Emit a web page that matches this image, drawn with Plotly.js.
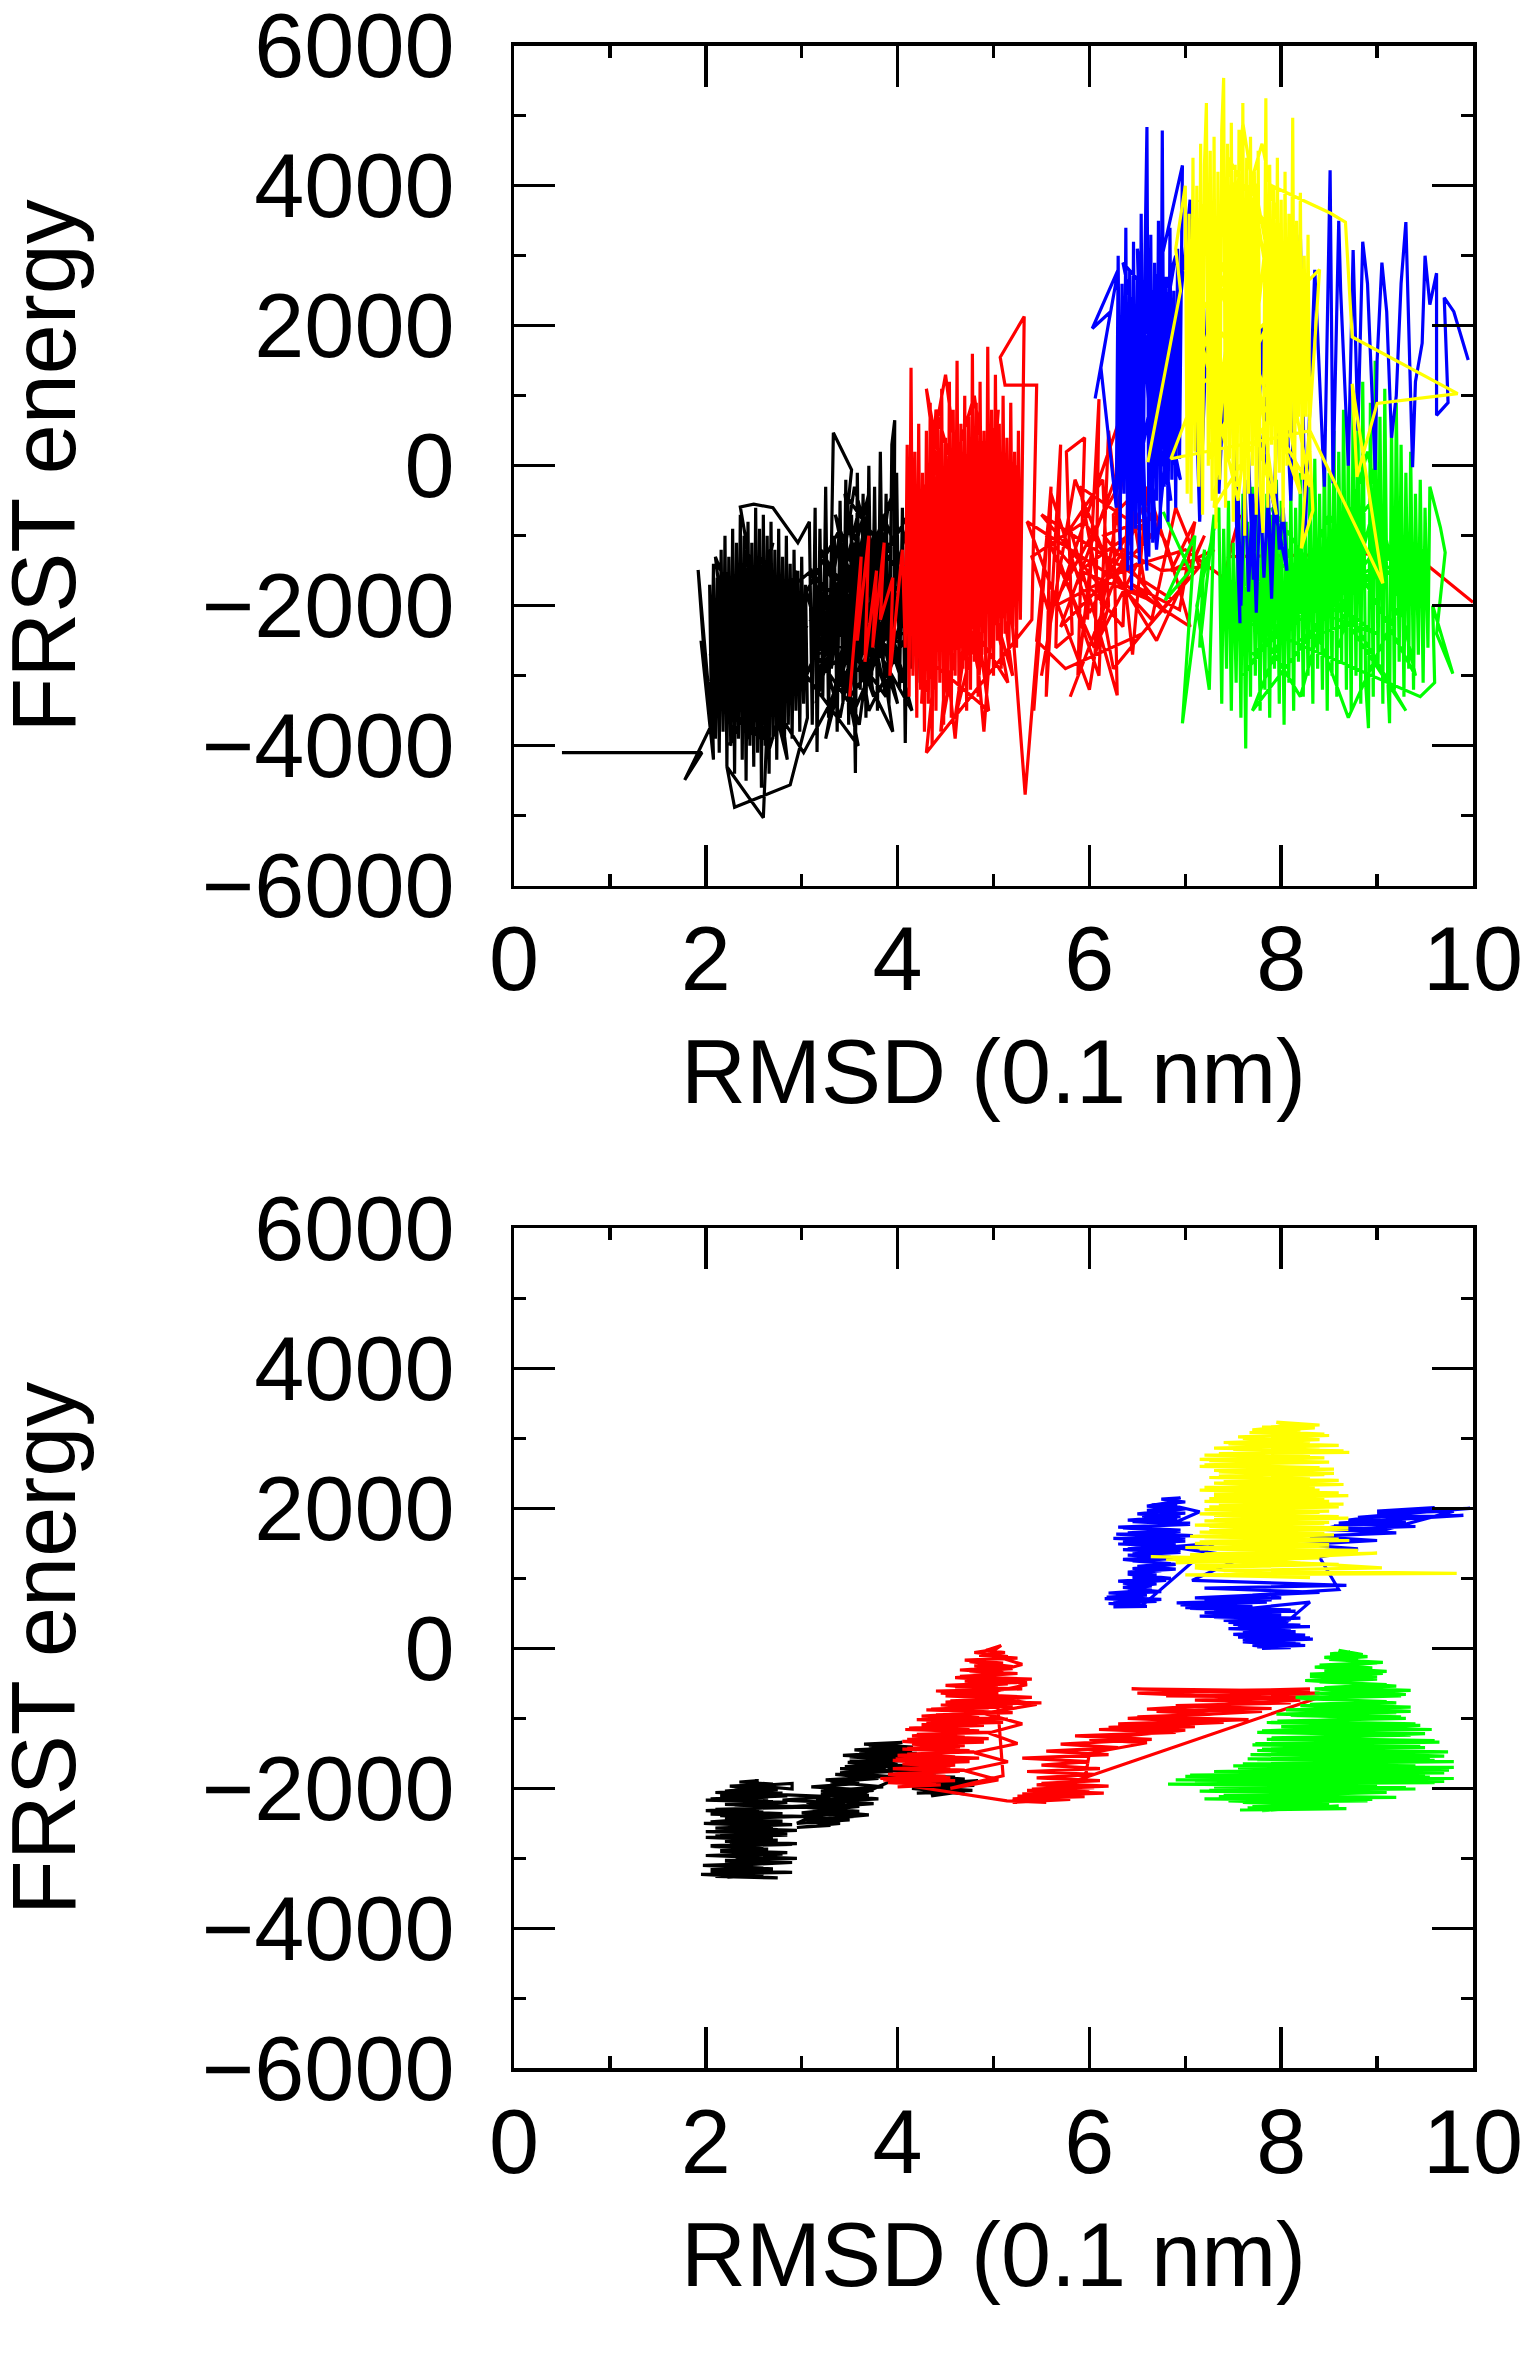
<!DOCTYPE html>
<html>
<head>
<meta charset="utf-8">
<script src="https://cdn.plot.ly/plotly-3.0.1.min.js"></script>
<style>
  html, body { margin: 0; padding: 0; background: #fff; }
  #chart { width: 1525px; height: 2366px; }
</style>
</head>
<body>
<div id="chart"></div>
<script>
// ---- datos: pares [RMSD, energía FRST] ----

// panel superior
const topBlack = [
  [0.50,-4100],[1.96,-4100],[1.78,-4490],[2.06,-3700],[1.92,-1490],[2.02,-3400],[1.95,-2500],[2.08,-4200],
  [2.04,-1700],[2.06,-3600],[2.08,-1400],[2.10,-3900],[2.12,-1600],[2.14,-4100],[2.16,-1200],[2.18,-3800],
  [2.20,-1000],[2.22,-4300],[2.24,-1300],[2.26,-4000],[2.28,-900],[2.30,-4400],[2.32,-1100],[2.34,-3900],
  [2.36,-700],[2.38,-4200],[2.40,-1000],[2.42,-4500],[2.44,-800],[2.46,-4000],[2.48,-1100],[2.50,-4300],
  [2.52,-600],[2.54,-4100],[2.56,-900],[2.58,-4600],[2.60,-700],[2.62,-4000],[2.64,-1000],[2.66,-4400],
  [2.68,-800],[2.70,-3900],[2.72,-1200],[2.74,-4200],[2.76,-900],[2.78,-3800],[2.80,-1300],[2.82,-4000],
  [2.84,-1000],[2.86,-3700],[2.88,-1400],[2.90,-3900],[2.92,-1200],[2.94,-3500],[2.96,-1500],[2.98,-3800],
  [3.00,-1300],[3.02,-3400],[3.04,-1700],[3.06,-3600],
  [2.88,-4560],[2.30,-4880],[2.22,-4300],[2.60,-5030],[2.66,-3000],[2.36,-590],[2.50,-550],[2.70,-600],[2.96,-1100],
  [3.08,-800],[3.11,-3700],[3.14,-600],[3.16,-4090],[3.19,-900],[3.22,-3300],[3.25,-300],[3.28,-3600],
  [3.33,470],[3.52,-60],[3.31,-2900],[3.34,-1000],[3.37,-3800],[3.40,-500],[3.43,-3400],[3.46,-200],
  [3.49,-3700],[3.52,-700],[3.56,-4390],[3.58,-100],[3.61,-3200],[3.64,-400],[3.67,-3600],[3.70,0],
  [3.73,-3000],[3.76,-300],[3.79,-3500],[3.82,200],[3.85,-2800],[3.88,-400],[3.91,-3400],[3.94,300],
  [3.97,650],[3.96,-2600],[3.99,-100],[4.02,-3200],[4.05,-600],[4.08,-3960],[4.11,-300],[4.14,-2900],
  [4.17,-900],[4.20,-3100],[4.23,-1200],[4.25,-2600],
  [3.10,-2200],[3.50,-1500],[3.20,-2700],[3.70,-1800],[3.30,-1900],[3.90,-2300],[3.40,-2600],[4.10,-1700],
  [3.60,-2900],[3.80,-1300],[3.45,-2100],[4.00,-2700],[3.65,-1200],[3.35,-3200],[3.75,-2400],[3.15,-1600],
  [3.55,-2500],[3.85,-1900],[3.25,-2300],[3.05,-3000],[3.59,-4000],[3.45,-3000],[3.02,-4100],
  [2.05,-2000],[2.55,-3900],[2.95,-1500],[2.30,-3600],[2.10,-1300],[2.80,-3800],[2.40,-1200],[3.00,-3200],
  [2.15,-3300],[2.70,-1100],[2.25,-4000],[2.90,-1900],[2.45,-3900],[2.20,-1500],[2.65,-4100],[3.05,-2300],
  [2.35,-1400],[2.75,-3500],[2.05,-2700],[2.60,-1300],[2.85,-4200],[2.50,-2200],
  [3.10,-1500],[3.60,-3700],[3.90,-600],[3.30,-3400],[4.00,-1500],[3.45,-400],[3.75,-3300],[3.20,-1200],
  [4.15,-3500],[3.55,-300],[3.35,-2100],[3.95,-3800],[3.65,-900],[3.25,-3900],[3.85,-700],[4.20,-2000],
  [3.50,-3300],[3.70,-400],[3.15,-3400],[3.40,-900],
  [3.05,-1800],[3.40,-3600],[3.75,-1000],[4.05,-3100],[3.50,-800],[3.20,-3000],[3.95,-2000],[3.60,-600],
  [3.30,-2400],[4.10,-2400],[3.70,-3500],[3.45,-1300],[3.85,-3100],[4.20,-1400],[3.55,-3500],[3.15,-2700],
  [3.90,-1100],[3.65,-2700],[3.35,-700],[4.00,-3400],[3.80,-2200],[3.25,-1400],[3.50,-2200],[4.15,-600],
  [3.72,-3000],[3.42,-2800],[3.95,-400],[3.62,-1600],[3.18,-2000],[3.88,-3300],[3.55,-1100],[4.08,-1900]
];

const topRed = [
  [3.50,-3300],[3.62,-1300],[3.58,-2500],[3.70,-1000],[3.66,-2800],[3.78,-1500],[3.74,-2600],[3.86,-1100],
  [3.82,-2200],[3.95,-1600],[3.92,-3000],[4.05,-1200],[4.08,-2600],
  [4.10,300],[4.12,-3300],[4.14,1400],[4.16,-3000],[4.18,200],[4.20,-3600],[4.22,600],[4.24,-3200],
  [4.26,-100],[4.28,-3800],[4.30,500],[4.32,-3400],[4.34,900],[4.36,-4000],[4.38,300],[4.40,-3500],
  [4.42,700],[4.44,-3100],[4.46,1100],[4.48,-3700],[4.50,400],[4.52,-3300],[4.54,1200],[4.56,-3600],
  [4.58,800],[4.60,-3000],[4.62,1500],[4.64,-3400],[4.66,600],[4.68,-2900],[4.70,1000],[4.72,-3500],
  [4.74,700],[4.76,-3200],[4.78,1600],[4.80,-2800],[4.82,900],[4.84,-3300],[4.86,1200],[4.88,-2700],
  [4.90,500],[4.92,-3100],[4.94,1700],[4.96,-2600],[4.98,800],[5.00,-3000],[5.02,1300],[5.04,-2500],
  [5.06,600],[5.08,-2900],[5.10,1000],[5.12,-2400],[5.14,400],[5.16,-2800],[5.18,900],[5.20,-2300],
  [5.22,200],[5.24,-2600],[5.26,500],[5.28,-2200],
  [5.32,2130],[5.07,1550],[5.12,1150],[5.45,1150],[5.40,-2200],
  [4.30,-4100],[4.45,-2000],[4.60,-3900],[4.75,-1500],[4.90,-3800],[5.05,-1000],
  [4.15,-2000],[4.80,1000],[5.20,-3000],[4.40,800],[4.25,-3400],[5.00,400],[4.60,-3600],[5.25,0],
  [4.35,-2800],[4.95,-3500],[4.50,1300],[4.20,-1000],[5.15,-3100],[4.70,200],[4.45,-3800],[5.05,800],
  [4.85,-3000],[4.30,1100],[4.65,-2600],[5.10,-500],
  [5.33,-4700],[5.50,-1800],[5.42,-3500],[5.60,-300],[5.55,-3300],[5.70,300],[5.65,-2600],[5.82,-2400],
  [5.76,200],[5.95,400],[5.88,-3000],[6.02,-1300],[5.98,-2200],[6.10,950],[6.06,-2700],[6.20,-2000],
  [6.14,-200],[5.80,-900],[6.29,-3280],[6.25,-700],[6.40,-500],[6.35,-2300],[5.55,-1000],[6.05,-2600],
  [6.50,-1400],[5.65,-2000],[6.30,600],[6.60,-1900],[5.90,-1500],[6.70,-700],[6.15,-1000],[6.80,-2100],
  [6.45,-1700],[6.94,-2060],[7.10,-800],[6.85,-1500],[7.30,-1200],[6.55,-2400],[5.75,-2900],[5.45,-2500],
  [5.60,-400],[6.00,-2100],[6.35,-1200],[6.75,-1500],[7.15,-1450],[6.90,-600],[6.65,-2200],[6.25,-1600],
  [5.85,-200],[5.50,-3000],[5.70,-1400],[6.10,-3000],[6.20,500],[6.45,-2700],[6.60,-300],[6.95,-1800],
  [7.20,-1000],[6.70,-2500],[5.95,-800],[5.40,-1300],[5.58,-2100],[6.38,-100],[6.80,-1100],[7.05,-2300],
  [5.35,-800],[6.00,-3200],[6.40,300],[5.70,-2300],[6.65,-1000],[5.90,-300],[6.25,-2900],[6.85,-1900],
  [5.50,-700],[6.10,-1700],[6.55,-600],[5.80,-3300],[6.30,-1500],[7.00,-1200],
  [7.40,-1600],[7.57,-700],[7.45,-1300],[9.37,-1250],[10.0,-1950]
];

const topGreen = [
  [6.77,-660],[7.05,-1500],[6.79,-1920],[7.10,-1000],[6.97,-3680],[7.20,-1200],[7.15,-2600],[7.30,-700],
  [7.25,-3200],[7.12,-2000],[7.35,-600],
  [7.38,-3400],[7.40,-900],[7.43,-2900],[7.45,-500],[7.48,-3500],[7.50,-1100],[7.53,-3100],[7.55,-700],
  [7.58,-3600],[7.60,-400],[7.63,-4040],[7.65,-800],[7.68,-3300],[7.70,-300],[7.73,-3000],[7.75,-600],
  [7.78,-3500],[7.80,-900],[7.83,-3200],[7.85,-400],[7.88,-3600],[7.90,-700],[7.93,-2900],[7.95,-200],
  [7.98,-3400],[8.00,-500],[8.03,-3700],[8.05,-800],[8.08,-3100],[8.10,-300],[8.13,-3500],[8.15,-600],
  [8.18,-2800],[8.20,-100],[8.23,-3300],[8.25,-700],[8.28,-3000],[8.30,-200],[8.33,-3400],[8.35,100],
  [8.38,-2900],[8.40,-400],[8.43,-3200],[8.45,300],[8.48,-3500],[8.50,-100],[8.53,-3000],[8.55,500],
  [8.58,-3300],[8.60,200],[8.63,-2800],[8.65,800],[8.68,-3200],[8.70,400],[8.73,-3500],[8.75,1000],
  [8.78,-3000],[8.80,600],[8.83,-3400],[8.85,1200],[8.88,-3100],[8.91,-3750],[8.93,900],[8.96,-3300],
  [8.98,1500],[9.01,-2900],[9.03,700],[9.06,-3400],[9.08,1100],[9.11,-3000],[9.13,-3680],[9.15,600],
  [9.18,-3200],[9.20,900],[9.23,-2800],[9.25,300],[9.28,-3300],[9.30,-100],[9.33,-2900],[9.35,200],
  [9.38,-3200],[9.40,-400],[9.43,-2700],[9.45,-200],[9.48,-3100],[9.50,-600],[9.53,-2600],[9.55,-300],
  [9.66,-880],[9.71,-1240],[9.62,-2400],[9.79,-2970],[9.58,-2000],[9.60,-3100],[9.45,-3300],
  [7.60,-2200],[9.20,-1500],[7.80,-1800],[9.00,-2400],[8.00,-1400],[8.80,-2200],[8.20,-2500],[9.30,-1100],
  [7.70,-2700],[8.60,-1600],[7.50,-1900],
  [7.40,-1500],[8.20,-3300],[8.90,200],[9.40,-3000],[8.50,-700],[7.70,-3500],[9.10,-1000],[8.00,-2200],
  [9.50,-1200],[8.70,-3600],[7.90,-600],[9.30,-3500],[8.40,-1400],[7.60,-3000],[9.00,-400],[8.60,-2600]
];

const topBlue = [
  [6.06,960],[6.30,2800],[6.03,1960],[6.22,2200],[6.12,1400],
  [6.28,-600],[6.30,3000],[6.32,-1200],[6.34,2600],[6.36,-400],[6.38,3400],[6.40,-1500],[6.42,2800],
  [6.44,-1780],[6.46,3200],[6.48,-900],[6.50,2700],[6.52,-1400],[6.54,3600],[6.56,-700],[6.58,3000],
  [6.60,4840],[6.62,-1300],[6.64,3300],[6.66,-1100],[6.68,2900],[6.70,-500],[6.72,3500],[6.74,-900],
  [6.76,4790],[6.78,-300],[6.80,2700],[6.82,-800],[6.84,3400],[6.86,-200],[6.88,2500],[6.90,-600],
  [6.92,3100],[6.94,100],[6.97,4290],
  [6.30,200],[6.90,3000],[6.40,-1000],[6.80,2200],[6.35,2900],[6.85,-500],[6.50,3100],[6.60,-1500],
  [6.45,1800],[6.95,-200],[6.55,2500],[6.70,-1200],
  [7.05,3800],[7.15,-800],[7.25,3000],[7.35,-400],[7.45,2500],[7.57,-2250],[7.55,-300],[7.58,-2000],
  [7.62,-200],[7.66,-1800],[7.70,-400],[7.74,-2100],[7.78,-300],[7.82,-1600],[7.86,-500],[7.90,-1900],
  [7.94,-200],[7.98,-1200],[8.02,-600],[8.06,-1500],[7.62,1500],[7.71,-1630],[7.80,2000],[7.90,-1630],
  [8.00,2500],[8.10,-500],[8.20,3300],[8.25,-1000],[8.35,2800],[8.40,1200],[8.45,-300],[8.51,4220],
  [8.54,-250],[8.60,3500],[8.62,2500],[8.70,0],[8.75,3080],[8.80,500],[8.85,3200],[8.90,2600],
  [8.98,-60],[9.00,1500],[9.05,2900],[9.10,2200],[9.15,400],[9.20,1000],[9.25,2600],[9.30,3480],
  [9.37,-20],[9.40,1200],[9.47,1750],[9.50,3000],[9.55,2300],[9.62,2750],[9.62,720],[9.74,900],
  [9.70,2400],[9.80,2200],[9.95,1510]
];

const topYellow = [
  [6.61,50],[6.95,2500],[6.90,3100],
  [7.00,4000],[7.02,-400],[7.04,3600],[7.06,-540],[7.08,4400],[7.10,200],[7.12,4000],[7.14,-300],
  [7.16,4600],[7.18,-700],[7.20,4300],[7.22,5180],[7.24,0],[7.26,4500],[7.28,-500],[7.30,4700],
  [7.32,-900],[7.34,4200],[7.36,-200],[7.38,4800],[7.40,5540],[7.42,-600],[7.44,4600],[7.46,100],
  [7.48,4900],[7.50,-800],[7.52,4300],[7.54,-300],[7.56,4800],[7.58,-100],[7.60,5180],[7.62,-1000],
  [7.64,4400],[7.66,-400],[7.68,4700],[7.70,0],[7.72,4200],[7.74,-700],[7.76,4500],[7.78,-300],
  [7.81,-960],[7.84,5250],[7.86,-600],[7.88,4300],[7.90,300],[7.92,4000],[7.94,-400],[7.96,4400],
  [7.98,-100],[8.00,3800],[8.02,-800],[8.04,4200],[8.06,0],[8.08,3600],[8.10,400],[8.12,4970],
  [8.14,-200],[8.16,3500],[8.18,700],[8.20,3900],[8.22,-200],[8.24,3000],[8.26,700],[8.28,3300],
  [8.30,200],[8.33,-640],[8.21,-1180],[8.40,2800],
  [7.05,1000],[7.80,4600],[8.25,1500],[7.30,-600],[7.60,4900],[8.20,-400],[7.15,3800],[7.95,-700],
  [7.45,4400],[8.10,2800],[7.25,100],[7.70,4200],[8.30,-300],[7.00,2800],[7.55,-500],[7.90,4000],
  [8.51,3610],[8.67,3480],[8.74,1840],[9.84,1030],[9.00,890],[8.79,-160],[8.74,1170],[9.06,-1680],
  [8.30,500],[6.85,100],[7.10,1000]
];

// panel inferior
const botBlack = [
  [2.10,-3260],[2.75,-3280],[1.95,-3230],[2.90,-3200],[2.05,-3160],[2.60,-3140],[1.97,-3100],[2.70,-3070],
  [2.20,-3040],[2.95,-3000],[2.30,-2970],[2.80,-2940],[2.15,-2900],[2.65,-2870],[2.05,-2830],[2.90,-2800],
  [2.25,-2770],[2.75,-2740],[2.00,-2700],[2.85,-2670],[2.15,-2640],[2.95,-2600],[2.10,-2570],[2.70,-2540],
  [1.98,-2500],[2.80,-2470],[2.20,-2440],[3.00,-2400],[2.05,-2370],[2.60,-2340],[2.10,-2300],[3.05,-2270],
  [2.30,-2240],[2.85,-2200],[2.00,-2170],[2.65,-2140],[2.15,-2100],[2.80,-2070],[2.20,-2040],[2.55,-2000],
  [2.25,-1970],[2.70,-1940],[2.35,-1910],[2.55,-1890],[2.40,-1950],[2.90,-2010],
  [2.90,-1930],[2.30,-1980],[2.75,-2020],[2.10,-2060],[2.85,-2110],[2.05,-2150],[2.70,-2190],[2.20,-2230],
  [2.95,-2260],[2.00,-2320],[2.80,-2360],[2.15,-2390],[2.65,-2420],[2.05,-2480],[2.90,-2520],[2.25,-2550],
  [2.75,-2590],[2.00,-2620],[2.85,-2650],[2.10,-2680],[2.70,-2720],[2.20,-2760],[2.95,-2790],[2.05,-2820],
  [2.60,-2860],[2.15,-2890],[2.85,-2920],[2.00,-2960],[2.75,-3000],[2.20,-3030],[2.90,-3060],[2.10,-3110],
  [2.70,-3150],[2.05,-3190],[2.60,-3230],[2.25,-3270],
  [2.60,-2080],[3.30,-2120],[2.80,-2170],[3.45,-2210],[2.90,-2260],[3.35,-2300],[3.00,-2350],[3.55,-2400],
  [3.10,-2450],[3.40,-2500],[2.95,-2560],[3.30,-2530],[3.05,-2460],[3.70,-2380],[3.15,-2320],[3.60,-2260],
  [3.05,-2200],[3.80,-2150],[3.20,-2090],[3.75,-2030],[3.10,-1980],[3.60,-1930],[3.25,-1880],[3.90,-1830],
  [3.40,-1780],[3.85,-1730],
  [3.45,-1690],[4.00,-1650],[3.50,-1610],[4.10,-1570],[3.43,-1530],[3.95,-1490],[3.55,-1450],[4.16,-1410],
  [3.65,-1370],[4.05,-1345],[3.75,-1400],[4.15,-1460],[3.70,-1520],[4.20,-1580],[3.80,-1640],[4.25,-1700],
  [2.95,-2500],[3.50,-2450],[3.00,-2400],[3.60,-2330],[3.10,-2280],[3.75,-2220],[3.15,-2170],[3.70,-2100],
  [3.20,-2040],[3.85,-1980],[3.30,-1910],[3.80,-1860],[3.35,-1800],[3.95,-1760],[3.40,-1720],[4.05,-1680],
  [3.48,-1630],[4.12,-1600],[3.50,-1550],[4.20,-1500],[3.60,-1470],[4.10,-1430],[3.70,-1390],[4.00,-1360],
  [3.85,-1740],[4.40,-1780],[3.90,-1820],[4.60,-1840],[4.00,-1880],[4.75,-1900],[4.10,-1950],[4.84,-1890],
  [4.30,-1990],[4.78,-2030],[4.20,-2070],[4.65,-2050],[4.35,-2110],[4.60,-1980],
  [3.90,-1700],[4.50,-1760],[3.95,-1800],[4.70,-1870],[4.05,-1920],[4.80,-1960],[4.15,-2000],[4.70,-2080]
];

const botRed = [
  [4.00,-1980],[4.45,-1950],[3.90,-1920],[4.60,-1890],[3.82,-1860],[4.50,-1830],[4.00,-1790],[4.65,-1760],
  [3.95,-1720],[4.55,-1690],[4.05,-1650],[4.75,-1620],[3.98,-1580],[4.60,-1550],[4.10,-1510],[4.80,-1480],
  [4.05,-1440],[4.65,-1410],[4.15,-1370],[4.90,-1340],[4.10,-1300],[4.70,-1270],[4.20,-1230],[5.00,-1200],
  [4.08,-1160],[4.75,-1130],[4.25,-1090],[5.10,-1060],[4.20,-1020],[4.85,-990],[4.40,-950],[5.20,-920],
  [4.30,-880],[4.95,-850],[4.45,-810],[5.50,-780],[4.55,-750],[5.20,-720],[4.50,-680],[5.05,-650],
  [4.40,-610],[5.30,-580],[4.60,-550],[5.15,-510],[4.70,-470],[5.40,-440],[4.65,-400],[5.10,-370],
  [4.75,-330],[5.20,-290],[4.80,-250],[5.10,-210],[4.70,-170],[5.25,-140],[4.85,-100],[5.12,-60],
  [4.92,-30],[5.08,40],[4.95,-80],[5.30,-230],[4.90,-380],[5.35,-520],[4.85,-660],[5.45,-800],
  [4.90,-930],[5.30,-1080],[4.95,-1210],[5.25,-1360],[4.80,-1490],[5.15,-1620],[4.70,-1750],[5.05,-1880],
  [4.55,-2000],[5.10,-1820],
  [5.00,-20],[4.80,-60],[5.15,-120],[4.75,-190],[5.20,-260],[4.65,-310],[5.25,-360],[4.60,-420],
  [5.35,-480],[4.50,-530],[5.10,-590],[4.45,-640],[5.40,-700],[4.50,-770],[5.20,-830],[4.35,-870],
  [5.00,-910],[4.25,-970],[5.15,-1010],[4.30,-1050],[4.90,-1100],[4.12,-1140],[4.85,-1180],[4.15,-1250],
  [4.95,-1290],[4.05,-1330],[4.70,-1390],[4.10,-1430],[4.75,-1460],[4.00,-1530],[4.85,-1570],[3.95,-1600],
  [4.60,-1670],[4.05,-1710],[4.70,-1740],[3.90,-1800],[4.55,-1850],[3.85,-1880],[4.40,-1930],[4.10,-1960],
  [5.14,-2180],[5.55,-2200],[5.20,-2150],[5.95,-2120],[5.30,-2080],[6.00,-2050],[5.40,-2010],[6.20,-1970],
  [5.50,-1930],[6.11,-1890],[5.45,-1850],[6.05,-1800],[5.35,-1760],[6.11,-1720],[5.50,-1670],[6.00,-1620],
  [5.30,-1570],[6.20,-1520],[5.55,-1470],[6.30,-1420],[5.70,-1370],[6.65,-1300],[5.85,-1250],[6.90,-1200],
  [6.10,-1160],[7.10,-1120],[6.30,-1080],[7.66,-1020],[6.50,-980],[7.30,-940],[6.70,-900],[7.90,-860],
  [6.90,-820],[8.10,-780],[7.10,-740],[8.35,-700],[6.80,-680],[8.40,-640],[6.44,-580],[8.30,-610],
  [7.50,-660],[8.40,-700],
  [5.20,-2200],[5.80,-2160],[5.25,-2110],[6.15,-2070],[5.35,-2030],[6.05,-1990],[5.45,-1950],[5.95,-1900],
  [6.00,-1500],[6.60,-1350],[6.00,-1300],[7.00,-1170],[6.20,-1130],[7.40,-1060],[6.40,-1000],[7.80,-900],
  [6.60,-870],[8.20,-740],[6.50,-640],[8.30,-580]
];

const botGreen = [
  [7.57,-2310],[8.68,-2290],[7.70,-2260],[8.20,-2230],[7.60,-2200],[8.90,-2180],[7.20,-2150],[9.20,-2130],
  [7.40,-2100],[8.60,-2070],[7.15,-2040],[9.40,-2010],[7.30,-1980],[9.00,-1960],[6.82,-1940],[9.60,-1920],
  [7.10,-1890],[9.80,-1860],[7.00,-1830],[9.50,-1800],[7.35,-1770],[9.75,-1740],[7.55,-1710],[9.40,-1680],
  [7.60,-1650],[9.80,-1620],[7.75,-1590],[9.55,-1560],[7.68,-1520],[9.74,-1480],[7.80,-1440],[9.45,-1400],
  [7.73,-1360],[9.60,-1320],[7.90,-1280],[9.35,-1240],[7.75,-1200],[9.57,-1160],[8.00,-1120],[9.40,-1080],
  [7.96,-1040],[9.30,-1000],[8.10,-960],[9.20,-920],[8.05,-880],[9.35,-840],[8.30,-800],[9.10,-760],
  [8.20,-720],[9.25,-680],[8.35,-640],[9.35,-600],[8.45,-560],[9.10,-520],[8.40,-480],[9.00,-440],
  [8.30,-400],[9.06,-360],[8.45,-320],[8.95,-280],[8.40,-240],[9.06,-200],[8.50,-160],[8.90,-120],
  [8.51,-80],[8.72,-50],[8.60,-100],[8.80,-180],
  [8.60,-30],[8.85,-90],[8.45,-130],[9.00,-210],[8.35,-270],[9.10,-330],[8.30,-370],[9.00,-410],
  [8.25,-460],[9.20,-540],[8.35,-580],[9.30,-660],[8.15,-700],[9.20,-780],[8.20,-820],[9.35,-900],
  [7.95,-940],[9.25,-980],[7.85,-1060],[9.45,-1100],[7.80,-1180],[9.50,-1220],[7.85,-1300],[9.65,-1340],
  [7.70,-1380],[9.50,-1420],[7.75,-1460],[9.70,-1540],[7.65,-1580],[9.60,-1600],[7.50,-1680],[9.80,-1700],
  [7.30,-1760],[9.70,-1780],[7.05,-1810],[9.55,-1840],[6.90,-1880],[9.70,-1900],[7.20,-1950],[9.30,-1990],
  [7.25,-2030],[9.10,-2060],[7.35,-2120],[8.95,-2160],[7.45,-2180],[8.50,-2220],[7.65,-2280],[8.30,-2270],
  [7.80,-2320],[8.60,-2250]
];

const botBlue = [
  [6.25,590],[6.60,600],[6.20,640],[6.70,670],[6.16,710],[6.55,740],[6.30,780],[6.75,810],
  [6.40,850],[6.65,890],[6.35,930],[6.80,970],[6.45,1010],[6.70,1050],[6.40,1090],[6.90,1130],
  [6.50,1170],[6.85,1210],[6.45,1250],[7.00,1290],[6.40,1330],[6.95,1370],[6.35,1410],[7.05,1450],
  [6.30,1490],[7.00,1530],[6.25,1570],[7.08,1610],[6.40,1650],[6.95,1690],[6.30,1730],[7.05,1770],
  [6.45,1810],[6.90,1850],[6.55,1890],[7.00,1930],[6.60,1970],[6.95,2010],[6.65,2050],[7.00,2090],
  [6.75,2130],[6.95,2150],[6.80,2060],[7.15,1950],[6.90,1800],
  [6.90,2100],[6.60,2030],[7.00,1990],[6.50,1920],[6.95,1880],[6.40,1830],[7.05,1790],[6.35,1720],
  [6.95,1670],[6.28,1630],[7.00,1580],[6.35,1520],[6.90,1480],[6.40,1420],[6.95,1400],[6.45,1350],
  [6.85,1300],[6.35,1270],[6.90,1200],[6.45,1140],[6.75,1110],[6.40,1060],[6.85,1000],[6.30,960],
  [6.70,920],[6.35,870],[6.65,830],[6.20,790],[6.60,760],[6.18,730],[6.75,700],[6.25,650],[6.55,610],
  [7.30,1500],[6.85,1450],[7.60,1300],[7.07,970],[8.68,900],[7.20,860],[8.40,800],
  [7.10,720],[7.90,690],[6.91,650],[7.60,620],[7.00,580],[8.10,550],[7.30,520],[7.80,490],
  [7.15,460],[8.20,430],[7.40,400],[8.05,370],[7.50,340],[8.30,310],[7.45,280],[8.10,250],
  [7.60,220],[8.25,190],[7.55,160],[8.33,130],[7.65,100],[8.15,70],[7.70,40],[8.10,10],
  [7.80,0],[8.20,60],[7.60,120],[8.15,200],[7.55,300],[8.05,420],[7.45,540],[8.30,660],
  [7.75,20],[8.25,40],[7.60,90],[8.30,150],[7.50,200],[8.15,240],[7.55,270],[8.20,330],
  [7.45,370],[8.10,410],[7.30,440],[8.00,480],[7.20,510],[8.15,530],[7.05,570],[7.70,600],
  [6.95,620],[7.85,660],[7.20,700],[8.00,720],
  [7.70,760],[8.60,840],
  [8.40,1300],[8.80,1420],[8.20,1480],[9.00,1540],[8.30,1600],[9.20,1650],[8.46,1700],[9.40,1740],
  [8.60,1790],[9.90,1900],[8.80,1870],[9.97,2000],[9.00,1960],[9.60,2010],[9.30,1940],[9.70,1990],
  [8.90,1850],[8.50,1720],[9.10,1700],[9.80,1960],[9.00,1930],[9.50,1970],[8.70,1830],[9.30,1800],[8.55,1750]
];

const botYellow = [
  [6.64,1310],[8.00,1270],[6.90,1220],[9.00,1360],[7.20,1300],[9.05,1150],[7.40,1110],[9.83,1070],
  [7.00,1050],[8.30,1010],[7.10,1150],[8.60,1200],[7.30,1250],[8.40,1290],[7.05,1340],[8.70,1380],
  [7.15,1420],[8.50,1460],[7.10,1500],[8.71,1540],[7.20,1580],[8.55,1620],[7.15,1660],[8.70,1700],
  [7.25,1740],[8.45,1780],[7.20,1820],[8.70,1860],[7.30,1900],[8.40,1940],[7.20,1980],[8.60,2020],
  [7.35,2060],[8.50,2100],[7.25,2140],[8.70,2180],[7.30,2220],[8.40,2260],[7.20,2300],[8.65,2340],
  [7.40,2380],[8.30,2420],[7.35,2460],[8.55,2500],[7.30,2540],[8.40,2580],[7.20,2620],[8.50,2660],
  [7.15,2700],[8.30,2740],[7.35,2780],[8.71,2800],[7.50,2840],[8.40,2880],[7.45,2920],[8.30,2960],
  [7.60,3000],[8.50,3040],[7.67,3080],[8.20,3120],[7.80,3160],[8.40,3190],[7.95,3230],[8.10,3170],
  [7.70,3120],[8.30,2950],
  [8.00,3200],[8.35,3150],[7.75,3100],[8.45,3060],[7.55,3020],[8.40,2980],[7.40,2940],[8.60,2900],
  [7.30,2860],[8.65,2820],[7.20,2760],[8.45,2720],[7.25,2680],[8.35,2640],[7.15,2600],[8.55,2560],
  [7.35,2520],[8.45,2480],[7.25,2440],[8.60,2400],[7.30,2360],[8.35,2300],[7.15,2260],[8.60,2220],
  [7.30,2180],[8.45,2140],[7.20,2100],[8.65,2060],[7.25,2020],[8.50,1960],[7.15,1920],[8.60,1880],
  [7.30,1840],[8.50,1800],[7.10,1760],[8.70,1720],[7.25,1680],[8.45,1640],[7.05,1600],[8.60,1560],
  [7.15,1520],[8.50,1480],[7.00,1440],[8.80,1400],[7.20,1350],[8.50,1320],[6.80,1270],[8.20,1220],
  [7.10,1180]
];

const colores = ['#000000', '#ff0000', '#00ff00', '#0000ff', '#ffff00'];
const seriesTop = [topBlack, topRed, topGreen, topBlue, topYellow];
const seriesBot = [botBlack, botRed, botGreen, botBlue, botYellow];

// ---- trazas ----
const trazas = [];
seriesTop.forEach((s, i) => {
    trazas.push({
        x: s.map(p => p[0]), y: s.map(p => p[1]),
        type: 'scatter', mode: 'lines',
        line: { color: colores[i], width: 3.2 },
        xaxis: 'x', yaxis: 'y', hoverinfo: 'skip'
    });
});
seriesBot.forEach((s, i) => {
    trazas.push({
        x: s.map(p => p[0]), y: s.map(p => p[1]),
        type: 'scatter', mode: 'lines',
        line: { color: colores[i], width: 3.2 },
        xaxis: 'x2', yaxis: 'y2', hoverinfo: 'skip'
    });
});

// ---- ejes ----
const W = 1525, H = 2366;
const fuente = 'Liberation Sans, Arial, Helvetica, sans-serif';

function ejeX(anchor) {
    return {
        anchor: anchor,
        domain: [514 / W, 1473 / W],
        range: [0, 10], dtick: 2, tick0: 0,
        showline: true, linecolor: '#000', linewidth: 3.5, mirror: 'ticks',
        ticks: 'inside', ticklen: 41, tickwidth: 3.5, tickcolor: '#000',
        minor: { ticks: 'inside', ticklen: 12, tickwidth: 3.5, dtick: 1, tickcolor: '#000' },
        showgrid: false, zeroline: false,
        tickfont: { family: fuente, size: 90, color: '#000' },
        ticklabelstandoff: -7, ticklabeloverflow: 'allow'
    };
}
function ejeY(anchor, top, bottom) {
    return {
        anchor: anchor,
        domain: [(H - bottom) / H, (H - top) / H],
        range: [-6000, 6000], dtick: 2000, tick0: 0,
        showline: true, linecolor: '#000', linewidth: 3.5, mirror: 'ticks',
        ticks: 'inside', ticklen: 41, tickwidth: 3.5, tickcolor: '#000',
        minor: { ticks: 'inside', ticklen: 12, tickwidth: 3.5, dtick: 1000, tickcolor: '#000' },
        showgrid: false, zeroline: false,
        tickfont: { family: fuente, size: 90, color: '#000' },
        ticklabelstandoff: 38, ticklabeloverflow: 'allow'
    };
}

const tituloFont = { family: fuente, size: 90, color: '#000' };
const cx = (514 + 1473) / 2 / W;

const layout = {
    width: W, height: H,
    margin: { l: 0, r: 0, t: 0, b: 0 },
    paper_bgcolor: '#fff', plot_bgcolor: '#fff',
    showlegend: false,
    xaxis: ejeX('y'),
    yaxis: ejeY('x', 45.7, 885.7),
    xaxis2: ejeX('y2'),
    yaxis2: ejeY('x2', 1228.3, 2068.3),
    annotations: [
        { text: 'RMSD (0.1 nm)', xref: 'paper', yref: 'paper', x: cx, y: (H - 1072) / H,
          xanchor: 'center', yanchor: 'middle', showarrow: false, font: tituloFont },
        { text: 'RMSD (0.1 nm)', xref: 'paper', yref: 'paper', x: cx, y: (H - 2255) / H,
          xanchor: 'center', yanchor: 'middle', showarrow: false, font: tituloFont },
        { text: 'FRST energy', xref: 'paper', yref: 'paper', x: 44 / W, y: (H - 465.7) / H,
          xanchor: 'center', yanchor: 'middle', textangle: -90, showarrow: false, font: tituloFont },
        { text: 'FRST energy', xref: 'paper', yref: 'paper', x: 44 / W, y: (H - 1648.3) / H,
          xanchor: 'center', yanchor: 'middle', textangle: -90, showarrow: false, font: tituloFont }
    ]
};

Plotly.newPlot('chart', trazas, layout, { displayModeBar: false, staticPlot: true });
</script>
</body>
</html>
